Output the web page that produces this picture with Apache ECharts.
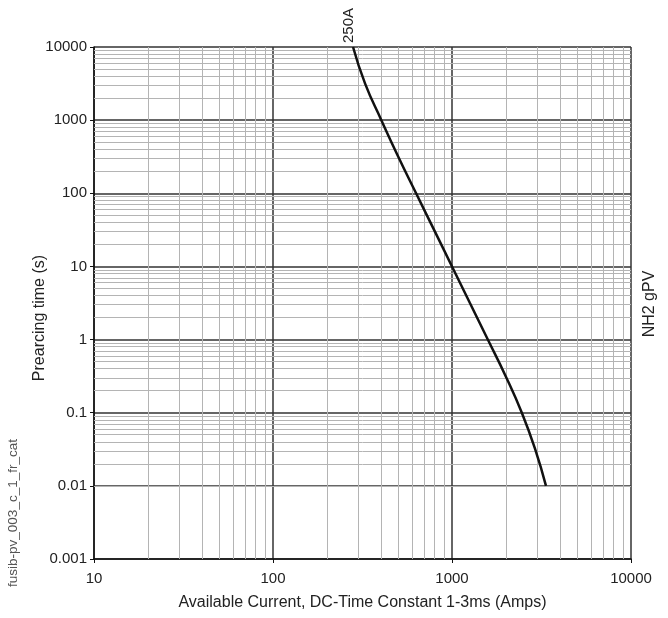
<!DOCTYPE html>
<html>
<head>
<meta charset="utf-8">
<script src="https://cdn.jsdelivr.net/npm/echarts@6/dist/echarts.min.js"></script>
<style>html,body{margin:0;padding:0;background:#fff}#c{width:668px;height:618px}</style>
</head>
<body>
<div id="c"></div>
<script>
// Curve: [current (A), prearcing time (s)]
const curve250A = [
  [280, 10000], [327, 3160], [403, 1000], [501, 316], [630, 100],
  [794, 31.6], [1000, 10], [1259, 3.16], [1585, 1], [1995, 0.316],
  [2455, 0.1], [2917, 0.0316], [3350, 0.01]
];
const curveLabel = '250A';
const xMinorValues = [20,30,40,50,60,70,80,90,200,300,400,500,600,700,800,900,2000,3000,4000,5000,6000,7000,8000,9000];
const yMinorValues = [];
const yDecades = [0.001, 0.01, 0.1, 1, 10, 100, 1000];
for (const d of yDecades) for (let k = 2; k <= 9; k++) yMinorValues.push(+(d * k).toPrecision(3));
const xTitle = 'Available Current, DC-Time Constant 1-3ms (Amps)';
const yTitle = 'Prearcing time (s)';
const rightText = 'NH2 gPV';
const sideText = 'fusib-pv_003_c_1_fr_cat';

const font = 'Liberation Sans, Arial, sans-serif';
const chart = echarts.init(document.getElementById('c'));
const minorStyle = { color: '#b4b4b4', width: 1, type: 'solid' };
chart.setOption({
  animation: false,
  grid: { left: 94, right: 37, top: 47, bottom: 59 },
  xAxis: {
    type: 'log', logBase: 10, min: 10, max: 10000,
    name: xTitle, nameLocation: 'middle', nameGap: 36,
    nameTextStyle: { fontFamily: font, fontSize: 16, color: '#222' },
    axisLine: { lineStyle: { color: '#111', width: 1.5 } },
    axisTick: { show: true, length: 4, lineStyle: { color: '#111' } },
    axisLabel: { fontFamily: font, fontSize: 15, color: '#222', margin: 12,
      formatter: v => String(v) },
    splitLine: { show: true, lineStyle: { color: '#333', width: 1.5 } }
  },
  yAxis: {
    type: 'log', logBase: 10, min: 0.001, max: 10000,
    axisLine: { show: true, lineStyle: { color: '#111', width: 1.5 } },
    axisTick: { show: true, length: 4, lineStyle: { color: '#111' } },
    axisLabel: { fontFamily: font, fontSize: 15, color: '#222', margin: 7,
      formatter: v => String(v) },
    splitLine: { show: true, lineStyle: { color: '#333', width: 1.5 } }
  },
  graphic: [
    { type: 'text', rotation: Math.PI / 2, x: 40, y: 318,
      style: { text: yTitle, font: '16px ' + font, fill: '#222', textAlign: 'center', textVerticalAlign: 'middle' } },
    { type: 'text', rotation: Math.PI / 2, x: 650, y: 304,
      style: { text: rightText, font: '16px ' + font, fill: '#222', textAlign: 'center', textVerticalAlign: 'middle' } },
    { type: 'text', rotation: Math.PI / 2, x: 13, y: 513,
      style: { text: sideText, font: '13.5px ' + font, fill: '#555', textAlign: 'center', textVerticalAlign: 'middle' } }
  ],
  series: [
    {
      type: 'line', data: [], silent: true, z: 1,
      markLine: {
        silent: true, symbol: 'none', label: { show: false }, animation: false,
        lineStyle: minorStyle,
        data: xMinorValues.map(v => ({ xAxis: v })).concat(yMinorValues.map(v => ({ yAxis: v })))
      }
    },
    {
      type: 'line', data: curve250A, smooth: true, showSymbol: false, silent: true, z: 10,
      lineStyle: { color: '#111', width: 2.5 },
      markPoint: {
        symbol: 'circle', symbolSize: 0,
        data: [{ coord: curve250A[0] }],
        label: { show: true, formatter: curveLabel, rotate: 90, position: 'top', distance: 4,
          offset: [0, -4],
          fontFamily: font, fontSize: 15, color: '#222', align: 'left', verticalAlign: 'middle' }
      }
    }
  ]
});
</script>
</body>
</html>
